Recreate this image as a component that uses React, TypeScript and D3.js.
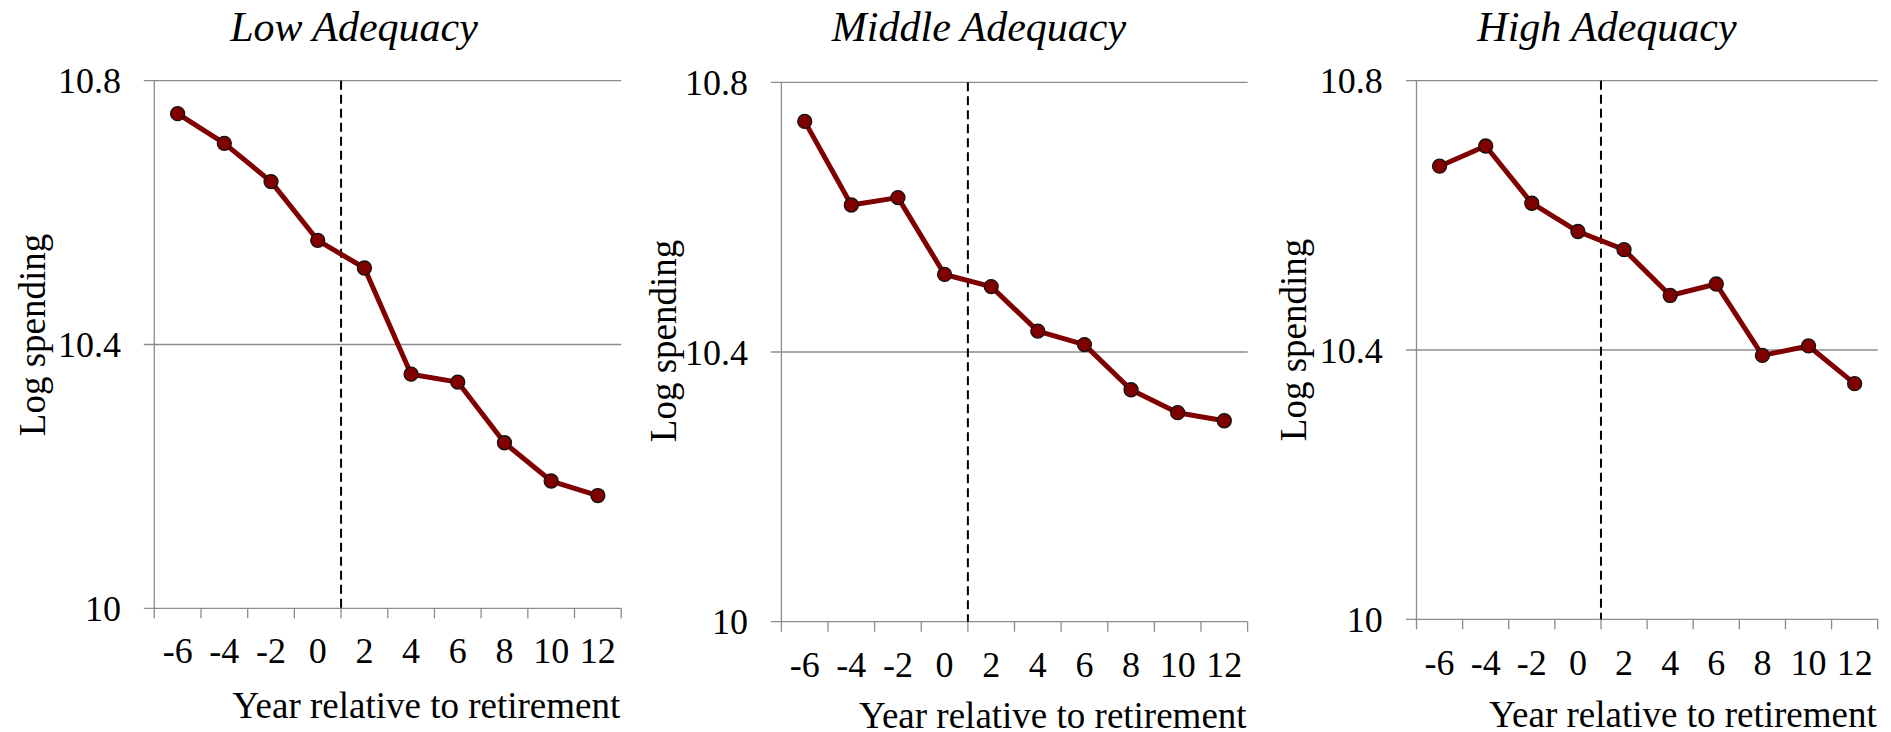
import React from 'react';
import * as d3 from 'd3';

// data
const years = ['-6', '-4', '-2', '0', '2', '4', '6', '8', '10', '12'];
const lowAdequacy = [10.75, 10.705, 10.647, 10.558, 10.516, 10.355, 10.343, 10.251, 10.193, 10.171];
const middleAdequacy = [10.742, 10.618, 10.629, 10.515, 10.497, 10.431, 10.411, 10.344, 10.31, 10.298];
const highAdequacy = [10.673, 10.703, 10.618, 10.576, 10.549, 10.481, 10.498, 10.392, 10.406, 10.35];
const yTicks = [10, 10.4, 10.8];
const titles = ['Low Adequacy', 'Middle Adequacy', 'High Adequacy'];
const retirementYear = '2';

const W = 1891;
const H = 732;
const FONT = '"Liberation Serif", "Times New Roman", serif';
const RED = '#800000';
const GRID = '#8c8c8c';

// panel layout (pixels)
const panels = [
  { values: lowAdequacy, left: 154.3, right: 621.2, top: 80.7, bottom: 608.3, titleX: 354, tickRight: 121, xLabelY: 663, axisTitleY: 718, yLabelX: 45, yLabelY: 335 },
  { values: middleAdequacy, left: 781.4, right: 1247.6, top: 82.3, bottom: 621.7, titleX: 979, tickRight: 748, xLabelY: 676.5, axisTitleY: 727.5, yLabelX: 676, yLabelY: 341 },
  { values: highAdequacy, left: 1416.5, right: 1877.7, top: 80.7, bottom: 619.3, titleX: 1607, tickRight: 1382.7, xLabelY: 675, axisTitleY: 727, yLabelX: 1306, yLabelY: 340 },
];

const Panel = ({ p, title }) => {
  const x = d3.scaleBand().domain(years).range([p.left, p.right]).padding(0);
  const y = d3.scaleLinear().domain([10, 10.8]).range([p.bottom, p.top]);
  const cx = (c) => x(c) + x.bandwidth() / 2;
  const pts = years.map((c, i) => [cx(c), y(p.values[i])]);
  const line = d3.line()(pts);
  const tickXs = years.map((c) => x(c)).concat([p.right]);
  const dashX = x(retirementYear);

  return (
    <g>
      <text x={p.titleX} y={41} textAnchor="middle" fontStyle="italic" fontSize={42} fontFamily={FONT}>
        {title}
      </text>

      {/* gridlines + y tick labels */}
      {yTicks.map((t) => (
        <g key={t}>
          <line x1={p.left - 10.5} x2={p.right} y1={y(t)} y2={y(t)} stroke={GRID} strokeWidth={1.3} />
          <text x={p.tickRight} y={y(t) + 12.5} textAnchor="end" fontSize={36} fontFamily={FONT}>
            {String(t)}
          </text>
        </g>
      ))}

      {/* y axis line */}
      <line x1={p.left} x2={p.left} y1={p.top} y2={p.bottom} stroke={GRID} strokeWidth={1.3} />

      {/* x tick marks */}
      {tickXs.map((tx, i) => (
        <line key={i} x1={tx} x2={tx} y1={p.bottom} y2={p.bottom + 10} stroke={GRID} strokeWidth={1.3} />
      ))}

      {/* x tick labels */}
      {years.map((c) => (
        <text key={c} x={cx(c)} y={p.xLabelY} textAnchor="middle" fontSize={36} fontFamily={FONT}>
          {c}
        </text>
      ))}

      {/* retirement marker */}
      <line x1={dashX} x2={dashX} y1={p.top} y2={p.bottom} stroke="#000" strokeWidth={2} strokeDasharray="9,5" />

      <path d={line} fill="none" stroke={RED} strokeWidth={5} strokeLinejoin="round" />
      {pts.map(([px, py], i) => (
        <circle key={i} cx={px} cy={py} r={7} fill={RED} stroke="#111" strokeWidth={1.3} />
      ))}

      <text x={p.right - 1} y={p.axisTitleY} textAnchor="end" fontSize={37} fontFamily={FONT}>
        Year relative to retirement
      </text>
      <text
        transform={`translate(${p.yLabelX},${p.yLabelY}) rotate(-90)`}
        textAnchor="middle"
        fontSize={37}
        fontFamily={FONT}
      >
        Log spending
      </text>
    </g>
  );
};

export default function App() {
  return (
    <svg
      width={W}
      height={H}
      viewBox={`0 0 ${W} ${H}`}
      style={{ position: 'absolute', left: 0, top: 0, background: '#fff', display: 'block' }}
    >
      <rect width={W} height={H} fill="#fff" />
      {panels.map((p, i) => (
        <Panel key={i} p={p} title={titles[i]} />
      ))}
    </svg>
  );
}
